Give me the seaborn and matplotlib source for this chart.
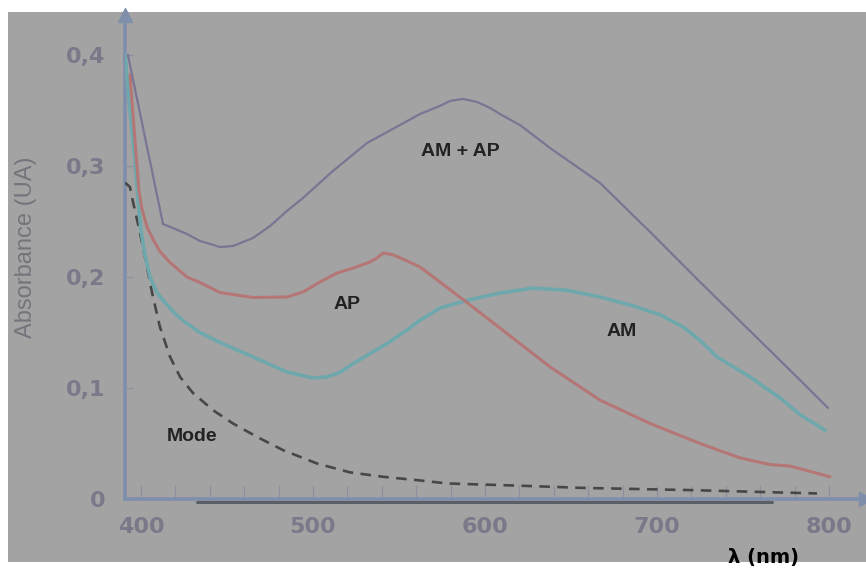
import matplotlib
matplotlib.use("Agg")
import matplotlib.pyplot as plt
from matplotlib.patches import Rectangle
from matplotlib.lines import Line2D
import seaborn as sns

# ---- data ----
wl_mix = [392.4, 412.8, 418.6, 426.7, 434.3, 438.4, 445.9, 453.5, 465.1, 475, 484.9, 494.2,
          511.6, 531.4, 550.6, 562.2, 573.8, 579.7, 587.2, 595.3, 602.9, 608.7, 620.3, 637.8,
          666.9, 696, 725, 754.1, 783.1, 799.4]
abs_mix = [0.400, 0.2477, 0.2441, 0.2387, 0.2324, 0.2306, 0.2270, 0.2279, 0.2351, 0.2459,
           0.2595, 0.2712, 0.2955, 0.3207, 0.3369, 0.3468, 0.3541, 0.3586, 0.3604, 0.3577,
           0.3523, 0.3468, 0.3369, 0.3162, 0.2847, 0.2405, 0.1955, 0.1514, 0.1072, 0.0820]

wl_ap = [393.6, 396.5, 398.8, 400.6, 403.5, 407, 411, 416.9, 426.7, 434.3, 445.9, 465.1, 484.9,
         494.2, 504.1, 514, 523.3, 533.1, 537.2, 540.7, 546.5, 553.5, 562.2, 573.8, 589.5, 608.7,
         637.8, 666.9, 696, 725, 748.3, 765.7, 777.3, 800.6]
abs_ap = [0.382, 0.323, 0.278, 0.261, 0.245, 0.234, 0.223, 0.213, 0.200, 0.195, 0.186, 0.1815,
          0.182, 0.1865, 0.1955, 0.2036, 0.208, 0.2135, 0.2171, 0.2216, 0.220, 0.2153, 0.209,
          0.1955, 0.177, 0.154, 0.119, 0.089, 0.068, 0.050, 0.037, 0.031, 0.0297, 0.020]

wl_am = [390.7, 393.6, 396.5, 398.3, 400, 402.3, 405.2, 409.3, 412.8, 419.8, 426.7, 434.3, 445.9,
         465.1, 484.9, 500, 508.1, 515.7, 523.3, 533.1, 543, 553.5, 562.2, 573.8, 589.5, 608.7,
         627.9, 647.7, 666.9, 686, 701.7, 715.1, 725, 734.9, 754, 773.3, 783.1, 797.7]
abs_am = [0.400, 0.350, 0.305, 0.269, 0.242, 0.220, 0.200, 0.186, 0.179, 0.167, 0.158, 0.150,
          0.141, 0.128, 0.1144, 0.109, 0.110, 0.114, 0.122, 0.131, 0.140, 0.151, 0.161, 0.172,
          0.179, 0.1855, 0.190, 0.188, 0.182, 0.174, 0.166, 0.155, 0.143, 0.128, 0.110, 0.089,
          0.076, 0.062]

wl_blank = [390.7, 393.6, 395.3, 399.4, 403.5, 406.4, 411, 416.9, 422.7, 430.2, 441.9, 453.5,
            467.4, 482.6, 502.3, 521.5, 540.7, 560.5, 578, 620, 657, 720, 793]
abs_blank = [0.285, 0.281, 0.268, 0.240, 0.209, 0.186, 0.155, 0.128, 0.110, 0.0955, 0.080, 0.068,
             0.056, 0.044, 0.032, 0.024, 0.020, 0.017, 0.014, 0.012, 0.010, 0.008, 0.005]

x_ticks = [400, 500, 600, 700, 800]
y_ticks = [0.0, 0.1, 0.2, 0.3, 0.4]
y_tick_labels = ["0", "0,1", "0,2", "0,3", "0,4"]
curve_labels = ["AM + AP", "AP", "AM", "Mode"]
label_pos = [(585.5, 0.3126), (520, 0.175), (679.7, 0.151), (429.7, 0.056)]

# ---- style ----
sns.set_style("white")
plt.rcParams["font.family"] = ["DejaVu Sans"]

W, H = 866, 571
fig = plt.figure(figsize=(W / 100, H / 100), dpi=100)
fig.patch.set_facecolor("white")
bg = "#a3a3a3"
fig.add_artist(Rectangle((8 / W, 9 / H), (W - 8) / W, 550 / H, transform=fig.transFigure,
                         facecolor=bg, edgecolor="none", zorder=0))

ax = fig.add_axes([125 / W, 72 / H, 741 / W, 484 / H])
ax.set_facecolor("none")
ax.set_xlim(390.7, 821.5)
ax.set_ylim(0, 0.436)

spine_col = "#7f8fab"
for s in ["top", "right"]:
    ax.spines[s].set_visible(False)
for s in ["left", "bottom"]:
    ax.spines[s].set_color(spine_col)
    ax.spines[s].set_linewidth(2.6)
    ax.spines[s].set_zorder(3)

# arrow heads on axes
ax.plot([0], [1], marker="^", markersize=10, color=spine_col, transform=ax.transAxes,
        clip_on=False, zorder=4)
ax.plot([1], [0], marker=">", markersize=10, color=spine_col, transform=ax.transAxes,
        clip_on=False, zorder=4)

# dark bar under the axis
fig.add_artist(Line2D([197 / W, 772 / W], [(H - 502) / H] * 2, transform=fig.transFigure,
                      color="#5a5e64", lw=2.2, zorder=2))

# curves
sns.lineplot(x=wl_blank, y=abs_blank, ax=ax, color="#474747", lw=1.9,
             linestyle=(0, (4, 2.8)), estimator=None, sort=False, zorder=5)
sns.lineplot(x=wl_am, y=abs_am, ax=ax, color="#6ea8ad", lw=2.6, estimator=None, sort=False, zorder=5)
sns.lineplot(x=wl_ap, y=abs_ap, ax=ax, color="#b57676", lw=2.2, estimator=None, sort=False, zorder=6)
sns.lineplot(x=wl_mix, y=abs_mix, ax=ax, color="#7b7594", lw=1.6, estimator=None, sort=False, zorder=6)

# ticks
tick_col = "#7c7889"
ax.set_xticks(x_ticks)
ax.set_xticks(list(range(420, 801, 20)), minor=True)
ax.set_xticklabels([str(v) for v in x_ticks])
ax.set_yticks(y_ticks)
ax.set_yticklabels(y_tick_labels)
ax.tick_params(axis="x", which="both", bottom=True, direction="in", length=10, width=0.8,
               color="#8c909e", pad=13, labelsize=16, labelcolor=tick_col)
ax.tick_params(axis="y", which="both", left=True, direction="in", length=6, width=0.8,
               color="#8c909e", pad=14, labelsize=16, labelcolor=tick_col)
for t in ax.get_xticklabels() + ax.get_yticklabels():
    t.set_fontweight("bold")

# axis titles
fig.text(26 / W, 1 - 247 / H, "Absorbance (UA)", rotation=90, ha="center", va="center",
         fontsize=17, color="#74747c", family=["Liberation Sans", "DejaVu Sans"])
fig.text(763 / W, 1 - 557 / H, "λ (nm)", ha="center", va="center", fontsize=14,
         fontweight="bold", color="black")

# curve labels
for txt, (xv, yv) in zip(curve_labels, label_pos):
    ax.text(xv, yv, txt, ha="center", va="center", fontsize=14, fontweight="bold",
            color="#222222", family=["Liberation Sans", "DejaVu Sans"], zorder=7)

fig.savefig("out.png", dpi=100, facecolor=fig.get_facecolor())
